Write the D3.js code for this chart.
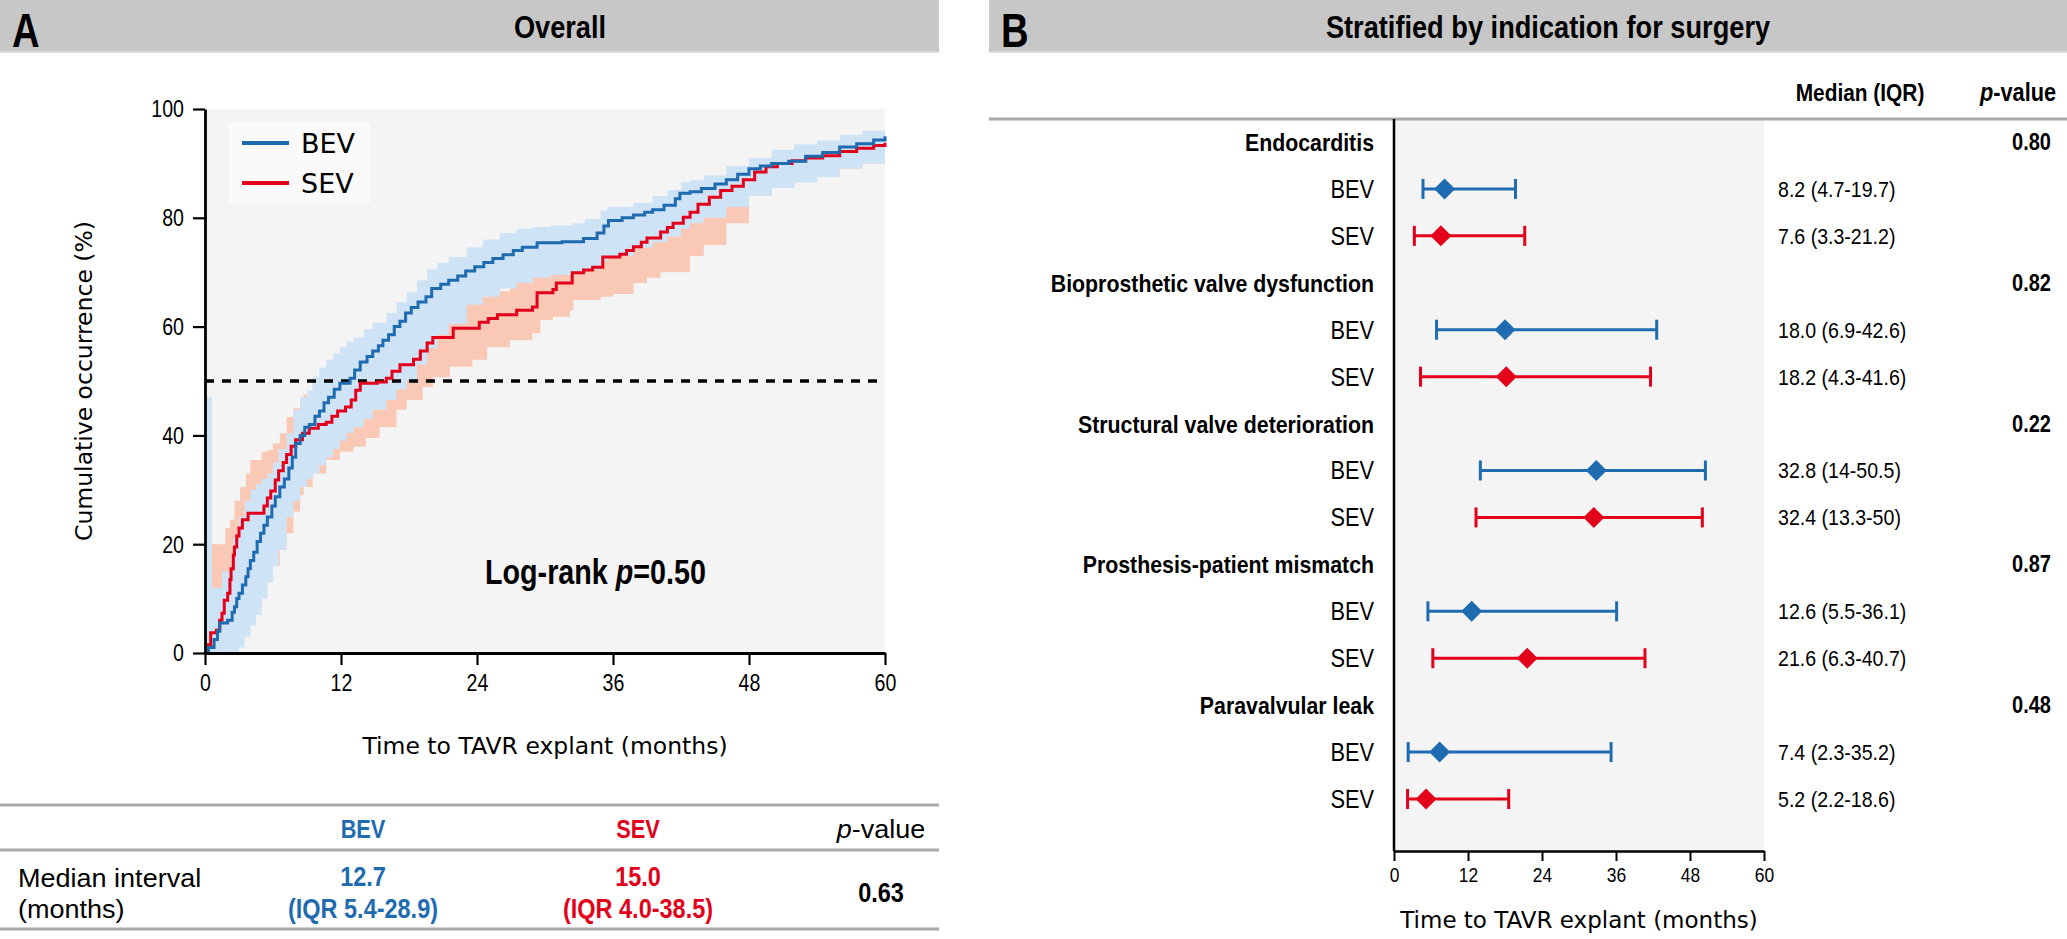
<!DOCTYPE html>
<html>
<head>
<meta charset="utf-8">
<script src="https://cdn.jsdelivr.net/npm/d3@7"></script>
<style>
  body { margin: 0; background: #fff; }
  .cond { font-family: "Liberation Sans", Arial, sans-serif; }
  .sans { font-family: "DejaVu Sans", sans-serif; }
</style>
</head>
<body>
<div id="chart"></div>
<script>
// ---- data ----
const kmColors = { BEV: "#1f6bb0", SEV: "#e2001a" };
const bandColors = { BEV: "#cfe3f6", SEV: "#f9c9b6" };

// cumulative occurrence (%) step curves
const bevTime = [0, 0.3, 0.8, 1.1, 1.3, 2.0, 2.4, 2.6, 2.8, 3.0, 3.3, 3.6, 3.8, 4.0, 4.3, 4.6, 4.9, 5.2, 5.5, 5.9, 6.2, 6.6, 7.0, 7.4, 7.7, 8.0, 8.4, 8.8, 9.2, 9.7, 10.1, 10.5, 10.9, 11.4, 11.9, 12.8, 13.2, 13.7, 14.3, 14.8, 15.3, 15.7, 16.2, 16.7, 17.2, 17.7, 18.2, 18.8, 19.5, 20.0, 20.8, 21.5, 22.3, 23.0, 23.8, 24.6, 25.4, 26.3, 27.2, 28.0, 29.3, 31.5, 33.4, 34.6, 35.2, 35.6, 36.8, 37.8, 38.8, 39.5, 40.5, 41.5, 41.9, 42.8, 43.8, 45.0, 46.0, 47.0, 48.0, 49.0, 50.0, 51.5, 53.0, 54.5, 56.0, 57.5, 59.0, 60];
const bevValue = [0, 1, 2.5, 4, 5.5, 6, 7.5, 8.5, 10, 11, 12.5, 14, 15.5, 17, 18.5, 20.5, 22, 23.5, 25, 27, 28.7, 30.5, 32, 34, 36, 38.5, 40, 41.5, 42, 43.5, 44.5, 46, 47, 48.5, 49.6, 50.5, 52, 53.5, 54.5, 55.5, 56.5, 57.5, 58.5, 60, 61, 62.5, 63.5, 64.5, 65.5, 67, 67.8, 68.5, 69.3, 70.2, 71, 71.8, 72.5, 73.2, 74, 74.6, 75.4, 75.6, 76.2, 77.2, 78.5, 79.5, 80, 80.5, 81, 81.5, 82.3, 83.5, 84.5, 84.8, 85.4, 86.2, 87, 88, 89, 89.5, 90, 90.4, 91.3, 92, 93, 93.6, 94.3, 95];

const sevTime = [0, 0.3, 0.5, 1.0, 1.3, 1.5, 1.7, 2.0, 2.2, 2.3, 2.5, 2.6, 2.8, 3.0, 3.3, 3.8, 5.2, 5.5, 5.8, 6.2, 6.5, 6.9, 7.2, 7.6, 8.0, 8.6, 9.2, 10.0, 10.7, 11.2, 11.7, 12.4, 12.9, 13.3, 13.7, 15.2, 16.0, 16.5, 17.2, 18.4, 19.0, 19.6, 20.1, 21.9, 24.2, 25.0, 25.8, 27.5, 28.9, 29.3, 30.7, 31.0, 32.4, 33.4, 34.2, 35.1, 36.6, 37.2, 37.8, 38.5, 39.0, 40.2, 40.8, 41.3, 42.2, 42.8, 43.5, 44.5, 45.5, 46.5, 47.5, 48.5, 49.5, 50.5, 51.8, 53.0, 54.5, 56.0, 57.5, 59.0, 60];
const sevValue = [0, 1.5, 3.7, 4.2, 6, 7.3, 9.7, 11, 13.5, 15.5, 18, 19.5, 21.5, 23, 24.5, 25.7, 27, 28.5, 29.8, 31.8, 33.5, 35, 36.5, 38, 39.2, 40.4, 41.3, 42, 42.4, 43.5, 44.5, 45.2, 46.5, 48.3, 49.6, 49.8, 50.5, 51.8, 53, 54, 55.5, 57, 58, 59.7, 60.8, 61.5, 62.2, 63, 63.6, 66.2, 66.8, 68, 69.9, 70.4, 70.9, 72.8, 73.3, 74, 74.7, 75.5, 76.3, 77.4, 78.2, 79, 80.1, 81, 82.5, 83.8, 85, 85.8, 87, 88.4, 89.4, 90, 90.5, 91, 91.4, 92.2, 92.8, 93.3, 93.8];

// 95% confidence bands
const bevBandTime = [0, 0.6, 1.5, 2.5, 3.0, 3.5, 4.0, 4.5, 5.0, 5.5, 6.0, 6.5, 7.2, 7.8, 8.4, 9.0, 9.5, 10.1, 10.7, 11.3, 11.9, 12.5, 13.1, 14.0, 14.8, 16.0, 16.9, 17.8, 18.7, 19.6, 20.5, 21.5, 23.1, 24.5, 26.0, 27.5, 28.9, 30.5, 32.5, 33.5, 34.9, 35.5, 37.8, 39.5, 40.8, 42.0, 42.8, 44, 46, 48, 50, 52, 54, 56, 58, 60];
const bevBandLow = [0, 0, 0, 0, 1, 3, 5, 7, 10, 13, 16, 19, 25, 28, 30.5, 32, 33, 34.5, 36, 37.5, 39, 40.5, 41.5, 43, 44.7, 46.5, 48.5, 50.2, 53, 56, 58.5, 60.5, 64, 65.5, 67, 68, 69, 69.5, 70, 70.5, 72, 73, 74.5, 75.5, 76.5, 78, 79, 80, 82, 84, 85.5, 86.5, 87.5, 89, 90, 91];
const bevBandHigh = [47, 12, 15, 21, 25, 28, 30, 31, 32, 33, 35, 37.5, 40.4, 44.7, 47, 48.3, 50.7, 52.5, 53.9, 55, 56.2, 57.2, 58, 59.5, 60.7, 62.5, 64.5, 66.3, 68.5, 70.5, 71.7, 72.8, 74.6, 76, 77.2, 78, 78.3, 78.6, 79, 79.8, 81.4, 82, 82.7, 84, 85.1, 86.5, 86.9, 87.8, 89.5, 91, 92.5, 93.5, 94.2, 95.2, 96, 96.8];

const sevBandTime = [0, 0.6, 1.5, 1.8, 2.2, 2.6, 3.1, 3.6, 4.0, 5.0, 5.5, 6.0, 6.6, 7.2, 7.8, 8.4, 8.7, 9.5, 10.7, 11.9, 13.1, 14.2, 15.4, 16.9, 17.8, 19.2, 20.1, 21.6, 23.6, 24.9, 26.9, 28.9, 29.6, 30.7, 32.2, 32.5, 34.9, 36.0, 37.8, 39.0, 40.2, 42.8, 44, 46, 48, 50, 52, 54, 56, 58, 60];
const sevBandLow = [0, 0, 0, 0, 1, 3, 5, 7, 9, 12, 14, 16, 19, 22, 26, 29, 30.5, 33, 35.5, 37, 37.9, 39.5, 41.5, 44.7, 46.5, 48.9, 50.7, 52.6, 53.9, 56.2, 57.5, 58.8, 61.2, 61.8, 63, 64.9, 65.5, 66, 68, 69, 70, 73, 75, 79, 84, 86, 87, 88, 89, 90, 91];
const sevBandHigh = [0, 20, 20, 23, 24.5, 28, 30.5, 33, 35.5, 37, 37.3, 38.5, 40.4, 43.4, 45, 46.5, 47.5, 49.6, 50.5, 51.5, 53, 55, 56.5, 58, 59, 60.5, 61.8, 64.3, 65.4, 66.5, 68, 70.4, 71, 72, 72.8, 73.5, 75.4, 76.5, 77.8, 79, 80.1, 82.7, 84.5, 87, 89.5, 91.5, 93, 93.8, 94.5, 95.2, 96];

const xTicksA = [0, 12, 24, 36, 48, 60];
const yTicksA = [0, 20, 40, 60, 80, 100];

// summary table under panel A
const tableSeries = ["BEV", "SEV"];
const tableMedian = ["12.7", "15.0"];
const tableIqr = ["(IQR 5.4-28.9)", "(IQR 4.0-38.5)"];
const tableP = "0.63";

// panel B: stratified medians
const indications = ["Endocarditis", "Bioprosthetic valve dysfunction", "Structural valve deterioration", "Prosthesis-patient mismatch", "Paravalvular leak"];
const indicationP = ["0.80", "0.82", "0.22", "0.87", "0.48"];
const bevMedian = [8.2, 18.0, 32.8, 12.6, 7.4];
const bevLow = [4.7, 6.9, 14, 5.5, 2.3];
const bevHigh = [19.7, 42.6, 50.5, 36.1, 35.2];
const bevLabel = ["8.2 (4.7-19.7)", "18.0 (6.9-42.6)", "32.8 (14-50.5)", "12.6 (5.5-36.1)", "7.4 (2.3-35.2)"];
const sevMedian = [7.6, 18.2, 32.4, 21.6, 5.2];
const sevLow = [3.3, 4.3, 13.3, 6.3, 2.2];
const sevHigh = [21.2, 41.6, 50, 40.7, 18.6];
const sevLabel = ["7.6 (3.3-21.2)", "18.2 (4.3-41.6)", "32.4 (13.3-50)", "21.6 (6.3-40.7)", "5.2 (2.2-18.6)"];
const xTicksB = [0, 12, 24, 36, 48, 60];

// ---- canvas ----
const width = 2067, height = 939;
const svg = d3.select("#chart").append("svg")
  .attr("width", width).attr("height", height)
  .attr("viewBox", [0, 0, width, height]);

// no condensed face is installed, so squeeze the text horizontally about its anchor
function condense(sel, s = 0.87) {
  sel.each(function () {
    const t = d3.select(this);
    const x0 = +t.attr("x") || 0;
    const prev = t.attr("transform") || "";
    t.attr("transform", `${prev} translate(${x0 * (1 - s)},0) scale(${s},1)`);
  });
  return sel;
}
function ctext(x0, y0, size, str, opts = {}) {
  const t = svg.append("text").attr("class", "cond").attr("x", x0).attr("y", y0)
    .attr("font-size", size)
    .attr("text-anchor", opts.anchor || "start")
    .attr("font-weight", opts.bold ? "bold" : "normal")
    .attr("fill", opts.fill || "#000");
  if (str !== null) t.text(str);
  condense(t, opts.s || 0.87);
  return t;
}

/*
   Header bands
*/
function header(x0, x1, letter, title, titleX) {
  svg.append("rect").attr("x", x0).attr("y", 0).attr("width", x1 - x0).attr("height", 53).attr("fill", "#c7c7c7");
  svg.append("rect").attr("x", x0).attr("y", 51).attr("width", x1 - x0).attr("height", 2).attr("fill", "#dcdcdc");
  ctext(x0 + 12, 47, 49, letter, { bold: true, s: 0.78 });
  ctext(titleX, 38, 32, title, { bold: true, anchor: "middle", s: 0.85 });
}
header(0, 939, "A", "Overall", 560);
header(989, 2067, "B", "Stratified by indication for surgery", 1548);

/*
   Panel A: cumulative incidence
*/
const x = d3.scaleLinear().domain([0, 60]).range([205, 885]);
const y = d3.scaleLinear().domain([0, 100]).range([653, 109]);

svg.append("rect").attr("x", x(0)).attr("y", y(100))
  .attr("width", x(60) - x(0)).attr("height", y(0) - y(100)).attr("fill", "#f4f4f4");

const band = d3.area().curve(d3.curveStepAfter)
  .x(d => x(d.t)).y0(d => y(d.lo)).y1(d => y(d.hi));
const line = d3.line().curve(d3.curveStepAfter)
  .x(d => x(d.t)).y(d => y(d.v));

const sevBand = sevBandTime.map((t, i) => ({ t, lo: sevBandLow[i], hi: sevBandHigh[i] }));
const bevBand = bevBandTime.map((t, i) => ({ t, lo: bevBandLow[i], hi: bevBandHigh[i] }));
svg.append("path").datum(sevBand).attr("d", band).attr("fill", bandColors.SEV);
svg.append("path").datum(bevBand).attr("d", band).attr("fill", bandColors.BEV);

// 50% reference
svg.append("line").attr("x1", x(0)).attr("x2", x(60)).attr("y1", y(50)).attr("y2", y(50))
  .attr("stroke", "#000").attr("stroke-width", 3.3).attr("stroke-dasharray", "9,8");

const bevLine = bevTime.map((t, i) => ({ t, v: bevValue[i] }));
const sevLine = sevTime.map((t, i) => ({ t, v: sevValue[i] }));
svg.append("path").datum(sevLine).attr("d", line).attr("fill", "none")
  .attr("stroke", kmColors.SEV).attr("stroke-width", 3);
svg.append("path").datum(bevLine).attr("d", line).attr("fill", "none")
  .attr("stroke", kmColors.BEV).attr("stroke-width", 3);

// axes
const axA = svg.append("g").attr("transform", `translate(${x(0)},0)`)
  .call(d3.axisLeft(y).tickValues(yTicksA).tickSize(12).tickSizeOuter(0).tickPadding(9));
const axB = svg.append("g").attr("transform", `translate(0,${y(0)})`)
  .call(d3.axisBottom(x).tickValues(xTicksA).tickSize(12).tickSizeOuter(0).tickPadding(9));
[axA, axB].forEach(g => {
  g.select(".domain").attr("stroke-width", 2.8);
  g.selectAll(".tick line").attr("stroke-width", 2.2);
  condense(g.selectAll(".tick text").attr("class", "cond").attr("font-size", 24.5).attr("fill", "#000"), 0.8);
});

svg.append("text").attr("class", "sans")
  .attr("transform", `translate(92,${(y(0) + y(100)) / 2}) rotate(-90)`)
  .attr("text-anchor", "middle").attr("font-size", 23.5).text("Cumulative occurrence (%)");
svg.append("text").attr("class", "sans").attr("x", (x(0) + x(60)) / 2).attr("y", 754)
  .attr("text-anchor", "middle").attr("font-size", 23.5).text("Time to TAVR explant (months)");

// legend
svg.append("rect").attr("x", 229).attr("y", 123).attr("width", 141).attr("height", 80).attr("fill", "#fafafa");
tableSeries.forEach((s, i) => {
  const ly = 143 + i * 40;
  svg.append("line").attr("x1", 242).attr("x2", 289).attr("y1", ly).attr("y2", ly)
    .attr("stroke", kmColors[s]).attr("stroke-width", 4);
  svg.append("text").attr("class", "sans").attr("x", 301).attr("y", ly + 10)
    .attr("font-size", 27).text(s);
});

const lr = ctext(485, 584, 35, null, { bold: true, s: 0.82 });
lr.append("tspan").text("Log-rank ");
lr.append("tspan").attr("font-style", "italic").text("p");
lr.append("tspan").text("=0.50");

/*
   Table under panel A
*/
[805, 850, 929].forEach(yy => {
  svg.append("line").attr("x1", 0).attr("x2", 939).attr("y1", yy).attr("y2", yy)
    .attr("stroke", "#a8a8a8").attr("stroke-width", 3);
});
const colX = [363, 638];
tableSeries.forEach((s, i) => {
  ctext(colX[i], 838, 25, s, { bold: true, anchor: "middle", fill: kmColors[s] });
  ctext(colX[i], 886, 27, tableMedian[i], { bold: true, anchor: "middle", fill: kmColors[s] });
  ctext(colX[i], 918, 27, tableIqr[i], { bold: true, anchor: "middle", fill: kmColors[s] });
});
const pv = ctext(881, 838, 26.5, null, { anchor: "middle", s: 1.02 });
pv.append("tspan").attr("font-style", "italic").text("p");
pv.append("tspan").text("-value");
ctext(18, 887, 26.5, "Median interval", { s: 1.02 });
ctext(18, 918, 26.5, "(months)", { s: 1.02 });
ctext(881, 902, 27, tableP, { bold: true, anchor: "middle" });

/*
   Panel B: forest of medians
*/
const xb = d3.scaleLinear().domain([0, 60]).range([1394, 1764]);
const rowY = d3.scalePoint().domain(d3.range(15)).range([142, 799]);

svg.append("rect").attr("x", xb(0)).attr("y", 119).attr("width", xb(60) - xb(0)).attr("height", 851 - 119)
  .attr("fill", "#f4f4f4");
svg.append("line").attr("x1", 989).attr("x2", 2067).attr("y1", 119).attr("y2", 119)
  .attr("stroke", "#a8a8a8").attr("stroke-width", 3);

ctext(1860, 101, 24, "Median (IQR)", { bold: true, anchor: "middle" });
const pvb = ctext(2018, 101, 25, null, { bold: true, anchor: "middle" });
pvb.append("tspan").attr("font-style", "italic").text("p");
pvb.append("tspan").text("-value");

const rows = [];
indications.forEach((name, g) => {
  rows.push({ kind: "head", label: name, p: indicationP[g], r: g * 3 });
  rows.push({ kind: "BEV", label: "BEV", med: bevMedian[g], lo: bevLow[g], hi: bevHigh[g], txt: bevLabel[g], r: g * 3 + 1 });
  rows.push({ kind: "SEV", label: "SEV", med: sevMedian[g], lo: sevLow[g], hi: sevHigh[g], txt: sevLabel[g], r: g * 3 + 2 });
});

rows.forEach(d => {
  const yy = rowY(d.r);
  const head = d.kind === "head";
  ctext(1374, yy + 9, head ? 24.5 : 25, d.label, { bold: head, anchor: "end" });
  if (head) {
    ctext(2051, yy + 8, 23, d.p, { bold: true, anchor: "end" });
    return;
  }
  const c = kmColors[d.kind];
  svg.append("line").attr("x1", xb(d.lo)).attr("x2", xb(d.hi)).attr("y1", yy).attr("y2", yy)
    .attr("stroke", c).attr("stroke-width", 3);
  [d.lo, d.hi].forEach(v => svg.append("line").attr("x1", xb(v)).attr("x2", xb(v))
    .attr("y1", yy - 10).attr("y2", yy + 10).attr("stroke", c).attr("stroke-width", 3));
  svg.append("path").attr("d", d3.symbol(d3.symbolSquare, 220)())
    .attr("transform", `translate(${xb(d.med)},${yy}) rotate(45)`).attr("fill", c);
  ctext(1778, yy + 8, 22.5, d.txt);
});

const axFB = svg.append("g").attr("transform", `translate(0,851)`)
  .call(d3.axisBottom(xb).tickValues(xTicksB).tickSize(10).tickSizeOuter(0).tickPadding(7));
axFB.select(".domain").attr("stroke-width", 2.5);
axFB.selectAll(".tick line").attr("stroke-width", 2);
condense(axFB.selectAll(".tick text").attr("class", "cond").attr("font-size", 20).attr("fill", "#000"));
svg.append("line").attr("x1", xb(0)).attr("x2", xb(0)).attr("y1", 119).attr("y2", 851)
  .attr("stroke", "#000").attr("stroke-width", 2.5);

svg.append("text").attr("class", "sans").attr("x", 1579).attr("y", 928)
  .attr("text-anchor", "middle").attr("font-size", 23).text("Time to TAVR explant (months)");
</script>
</body>
</html>
